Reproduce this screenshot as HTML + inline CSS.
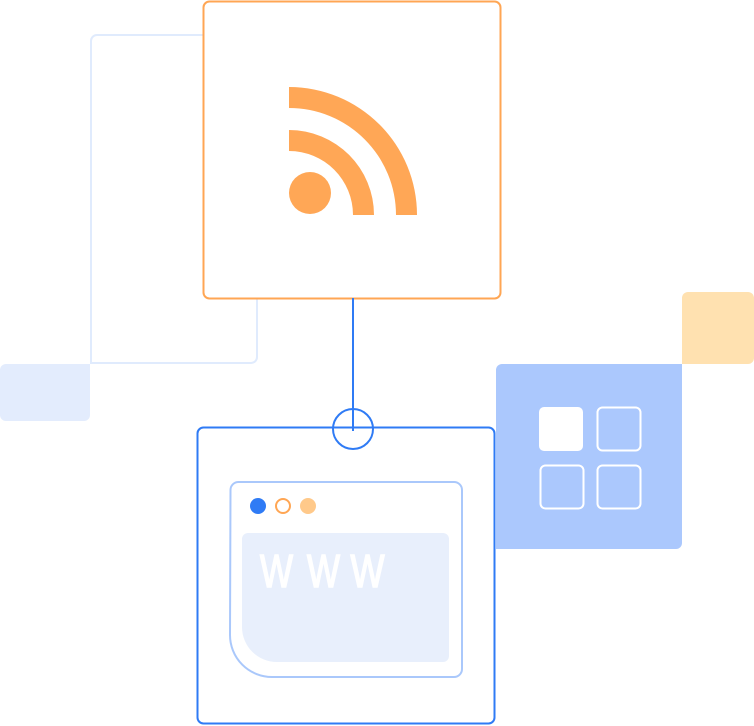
<!DOCTYPE html>
<html><head><style>html,body{margin:0;padding:0;background:#fff}svg{display:block}</style></head>
<body>
<svg width="754" height="726" viewBox="0 0 754 726" xmlns="http://www.w3.org/2000/svg">
<path d="M91,363 V41 a6,6 0 0 1 6,-6 H251 a6,6 0 0 1 6,6 V357 a6,6 0 0 1 -6,6 Z" fill="none" stroke="#e0ebfd" stroke-width="2"/>
<path d="M0,370 a6,6 0 0 1 6,-6 H90 V415 a6,6 0 0 1 -6,6 H6 a6,6 0 0 1 -6,-6 Z" fill="#e3ecfd"/>
<rect x="203.5" y="1.5" width="297" height="297" rx="6" fill="#fff" stroke="#ffa654" stroke-width="2"/>
<path d="M289,87 A128,128 0 0 1 417,215 H396 A107,107 0 0 0 289,108 Z" fill="#ffa756"/>
<path d="M289,130 A85,85 0 0 1 374,215 H353 A64,64 0 0 0 289,151 Z" fill="#ffa756"/>
<circle cx="310" cy="193" r="21" fill="#ffa756"/>
<path d="M682,298 a6,6 0 0 1 6,-6 H748 a6,6 0 0 1 6,6 V358 a6,6 0 0 1 -6,6 H682 Z" fill="#ffe1b0"/>
<path d="M496,370 a6,6 0 0 1 6,-6 H682 V543 a6,6 0 0 1 -6,6 H496 Z" fill="#abc8fd"/>
<rect x="539" y="407" width="44" height="44" rx="5" fill="#fff"/>
<rect x="597.5" y="407.5" width="43" height="43" rx="5" fill="none" stroke="#fff" stroke-width="2"/>
<rect x="540.5" y="465.5" width="43" height="43" rx="5" fill="none" stroke="#fff" stroke-width="2"/>
<rect x="597.5" y="465.5" width="43" height="43" rx="5" fill="none" stroke="#fff" stroke-width="2"/>
<rect x="197.5" y="427.5" width="297" height="296" rx="6" fill="#fff" stroke="#2f7bf5" stroke-width="2"/>
<line x1="353" y1="298" x2="353" y2="431" stroke="#2f7bf5" stroke-width="2"/>
<circle cx="353" cy="429" r="20" fill="none" stroke="#2f7bf5" stroke-width="2"/>
<path d="M230.5,490 a8,8 0 0 1 8,-8 H454 a8,8 0 0 1 8,8 V669 a8,8 0 0 1 -8,8 H272 a42,42 0 0 1 -42,-42 Z" fill="#fff" stroke="#aac8fb" stroke-width="2"/>
<path d="M242,539 a6,6 0 0 1 6,-6 H443 a6,6 0 0 1 6,6 V656 a6,6 0 0 1 -6,6 H277 a35,35 0 0 1 -35,-35 Z" fill="#e8effc"/>
<g font-family="Liberation Sans, sans-serif" font-size="46" fill="#fff" stroke="#fff" stroke-width="1.6">
<text x="260" y="587" textLength="33" lengthAdjust="spacingAndGlyphs">W</text>
<text x="307" y="587" textLength="33" lengthAdjust="spacingAndGlyphs">W</text>
<text x="350.5" y="587" textLength="34" lengthAdjust="spacingAndGlyphs">W</text>
</g>
<circle cx="258" cy="506" r="8" fill="#2f7bf5"/>
<circle cx="283" cy="506" r="7" fill="none" stroke="#ffa654" stroke-width="2"/>
<circle cx="308" cy="506" r="8" fill="#ffc98a"/>
</svg>
</body></html>
